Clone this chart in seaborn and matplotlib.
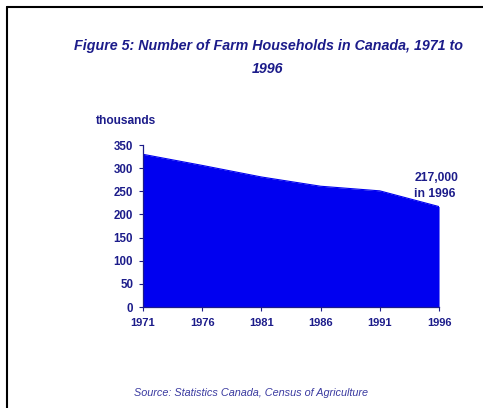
import matplotlib
matplotlib.use("Agg")
import matplotlib.pyplot as plt
from matplotlib import font_manager as fm
import seaborn as sns
import pandas as pd

# data (thousands of farm households)
years = [1971, 1976, 1981, 1986, 1991, 1996]
households = [330, 306, 281, 261, 251, 217]
y_ticks = [0, 50, 100, 150, 200, 250, 300, 350]

df = pd.DataFrame({"year": years, "households": households})

sns.set_style("white")
plt.rcParams['font.family'] = ['Liberation Sans', 'DejaVu Sans']


def lib_font(name, size):
    # pick the regular-width Liberation Sans file, not the Narrow one
    for path in fm.findSystemFonts():
        if path.endswith(name):
            return fm.FontProperties(fname=path, size=size)
    return fm.FontProperties(family="DejaVu Sans", size=size)


bold = "LiberationSans-Bold.ttf"
bold_it = "LiberationSans-BoldItalic.ttf"
ital = "LiberationSans-Italic.ttf"

navy = "#1c1c8a"
fill_blue = "#0000f0"

fig = plt.figure(figsize=(4.83, 4.08), dpi=100)
ax = fig.add_axes([0.296, 0.2475, 0.613, 0.397])

ax.fill_between(df["year"], df["households"], 0, color=fill_blue, linewidth=0)
sns.lineplot(data=df, x="year", y="households", ax=ax, color=fill_blue, linewidth=0.8)

ax.set_xlim(1971, 1996)
ax.set_ylim(0, 350)
ax.set_xticks(years)
ax.set_yticks(y_ticks)
ax.set_xlabel("")
ax.set_ylabel("")
for lab in ax.get_xticklabels():
    lab.set_fontproperties(lib_font(bold, 8))
    lab.set_color(navy)
for lab in ax.get_yticklabels():
    lab.set_fontproperties(lib_font(bold, 8.3))
    lab.set_color(navy)
ax.tick_params(axis="both", direction="out", length=3, width=0.8, color=navy, pad=4)
ax.tick_params(axis="x", pad=5)
ax.tick_params(left=True, bottom=True)

sns.despine(ax=ax)
for side in ["left", "bottom"]:
    ax.spines[side].set_color(navy)
    ax.spines[side].set_linewidth(0.9)

ax.text(1993.9, 217 + 15, "217,000\nin 1996", ha="left", va="bottom",
        fontproperties=lib_font(bold, 8.7), color=navy, linespacing=1.45)

title_fp = lib_font(bold_it, 10.3)
fig.text(268 / 483, 1 - 46 / 408, "Figure 5: Number of Farm Households in Canada, 1971 to",
         ha="center", va="center", fontproperties=title_fp, color=navy)
fig.text(268 / 483, 1 - 69 / 408, "1996",
         ha="center", va="center", fontproperties=title_fp, color=navy)
fig.text(96 / 483, 1 - 120.5 / 408, "thousands", ha="left", va="center",
         fontproperties=lib_font(bold, 8.6), color=navy)
fig.text(251 / 483, 1 - 392.5 / 408, "Source: Statistics Canada, Census of Agriculture",
         ha="center", va="center", fontproperties=lib_font(ital, 7.8), color="#3a3aa0")

# frame line along top and left edge (cropped box)
fig.add_artist(plt.Line2D([7 / 483, 7 / 483], [0, 1 - 7 / 408], transform=fig.transFigure,
                          color="black", linewidth=1.5))
fig.add_artist(plt.Line2D([7 / 483, 1], [1 - 7 / 408, 1 - 7 / 408], transform=fig.transFigure,
                          color="black", linewidth=1.5))

fig.savefig("out.png", dpi=100)
